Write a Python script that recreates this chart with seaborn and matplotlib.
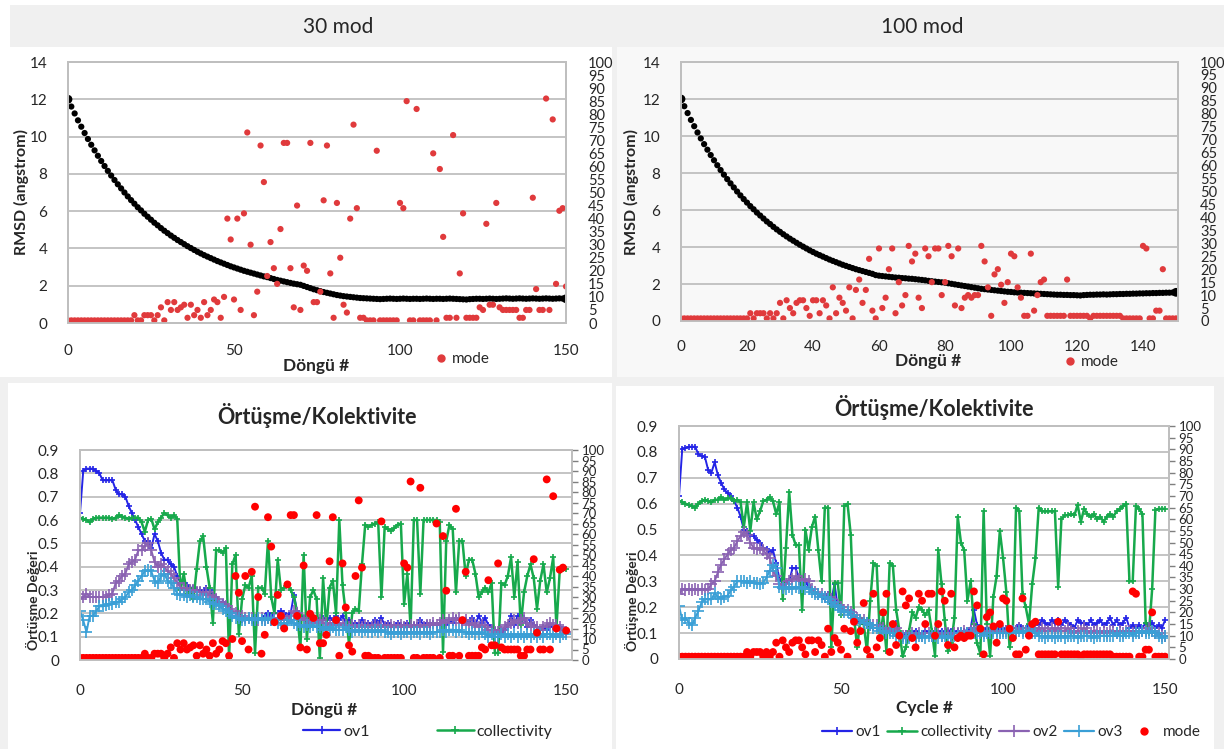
import matplotlib
matplotlib.use("Agg")
import matplotlib.pyplot as plt
from matplotlib.patches import Rectangle
from matplotlib.lines import Line2D
import seaborn as sns

sns.set_theme(style="white")
plt.rcParams['font.family'] = ['Lato', 'DejaVu Sans']

W, H = 1224, 749

# ---------------- data ----------------
cycles = list(range(151))

rmsd_30 = [12.00, 11.61, 11.24, 10.87, 10.53, 10.19, 9.87, 9.56, 9.26, 8.97,
           8.69, 8.42, 8.16, 7.91, 7.67, 7.44, 7.22, 7.00, 6.79, 6.59,
           6.40, 6.21, 6.04, 5.86, 5.70, 5.54, 5.38, 5.24, 5.09, 4.95,
           4.82, 4.69, 4.57, 4.45, 4.34, 4.23, 4.12, 4.02, 3.92, 3.82,
           3.73, 3.64, 3.56, 3.48, 3.40, 3.32, 3.25, 3.18, 3.11, 3.04,
           2.98, 2.92, 2.86, 2.80, 2.75, 2.70, 2.65, 2.60, 2.55, 2.50,
           2.46, 2.41, 2.36, 2.31, 2.27, 2.23, 2.19, 2.15, 2.11, 2.08,
           2.05, 1.99, 1.93, 1.87, 1.81, 1.76, 1.71, 1.66, 1.62, 1.58,
           1.54, 1.50, 1.47, 1.44, 1.42, 1.40, 1.38, 1.36, 1.34, 1.33,
           1.32, 1.31, 1.30, 1.29, 1.28, 1.29, 1.30, 1.31, 1.30, 1.29,
           1.30, 1.31, 1.30, 1.29, 1.30, 1.30, 1.29, 1.30, 1.31, 1.30,
           1.29, 1.30, 1.30, 1.29, 1.30, 1.31, 1.30, 1.29, 1.28, 1.27,
           1.26, 1.28, 1.29, 1.30, 1.30, 1.29, 1.30, 1.31, 1.30, 1.29,
           1.30, 1.31, 1.32, 1.31, 1.30, 1.31, 1.32, 1.31, 1.30, 1.31,
           1.32, 1.31, 1.30, 1.31, 1.32, 1.31, 1.30, 1.31, 1.32, 1.31,
           1.30]

rmsd_100 = [12.00, 11.61, 11.24, 10.87, 10.53, 10.19, 9.87, 9.56, 9.26, 8.97,
            8.69, 8.42, 8.16, 7.91, 7.67, 7.44, 7.22, 7.00, 6.79, 6.59,
            6.40, 6.21, 6.04, 5.86, 5.70, 5.54, 5.38, 5.24, 5.09, 4.95,
            4.82, 4.69, 4.57, 4.45, 4.34, 4.23, 4.12, 4.02, 3.92, 3.82,
            3.73, 3.64, 3.56, 3.48, 3.40, 3.32, 3.25, 3.18, 3.11, 3.04,
            2.98, 2.92, 2.86, 2.80, 2.75, 2.70, 2.65, 2.60, 2.55, 2.48,
            2.45, 2.43, 2.41, 2.39, 2.37, 2.35, 2.34, 2.32, 2.31, 2.29,
            2.28, 2.26, 2.24, 2.22, 2.20, 2.17, 2.15, 2.13, 2.11, 2.09,
            2.07, 2.04, 2.01, 1.98, 1.95, 1.92, 1.89, 1.86, 1.83, 1.80,
            1.77, 1.74, 1.72, 1.70, 1.68, 1.66, 1.64, 1.62, 1.60, 1.58,
            1.57, 1.55, 1.54, 1.53, 1.52, 1.51, 1.50, 1.49, 1.48, 1.47,
            1.46, 1.45, 1.44, 1.43, 1.42, 1.42, 1.41, 1.41, 1.40, 1.40,
            1.39, 1.38, 1.40, 1.41, 1.42, 1.42, 1.43, 1.43, 1.44, 1.43,
            1.44, 1.45, 1.45, 1.46, 1.46, 1.47, 1.47, 1.48, 1.48, 1.49,
            1.49, 1.50, 1.50, 1.51, 1.51, 1.52, 1.52, 1.53, 1.53, 1.54,
            1.55]

mode_30 = ([1] * 20 +
           [3, 1, 1, 3, 3, 3, 1, 3, 6, 1, 8, 5, 8, 5, 6, 7, 2, 7, 3, 5,
            2, 8, 3, 5, 9, 8, 2, 10] +
           [40, 32, 9, 40, 5, 42, 73, 30, 3, 12, 68, 54] +
           [18, 31, 21, 15, 36, 69, 69, 21, 6, 45, 5, 22, 20, 69, 8, 8, 12, 47, 68, 19,
            2, 46, 25, 7, 4, 40, 76, 44, 2, 2] +
           [1, 1, 1, 66, 1, 1, 1, 1, 1, 1] +
           [46, 44, 85, 1, 1, 82, 1, 1, 1, 1, 65, 1, 59, 33, 2, 2, 72, 2, 19, 42] +
           [2, 2, 2, 2, 6, 5, 38, 7, 7, 46, 6, 5, 5, 5, 5, 5, 2, 2, 5, 5] +
           [48, 13, 5, 5, 86, 5, 78, 15, 43, 44, 14])

mode_100 = ([1] * 21 +
            [3, 1, 3, 3, 3, 1, 3, 1, 3, 7,
             1, 8, 5, 3, 7, 8, 8, 5, 2, 8,
             8, 3, 8, 6, 1, 13, 3, 9, 7, 4,
             13, 1, 12, 16, 7, 12, 24, 4, 1, 28,
             5, 9, 20, 28, 3, 15, 6, 10, 29, 23,
             26, 9, 5, 28, 25, 15, 28, 28, 10, 15,
             29, 25, 6, 28, 5, 9, 10, 9, 10, 10,
             29, 23, 13, 2, 18, 20, 14, 7, 15, 26,
             25, 13, 9, 2, 2, 26, 4, 10, 15, 16,
             2, 2, 2, 2, 2, 2, 16, 2, 2, 2,
             2, 2, 2, 1, 2, 2, 2, 2, 2, 2,
             2, 2, 2, 1, 1, 1, 1, 1, 1, 29,
             28, 1, 1, 4, 4, 20, 1, 1, 1, 1])

ov1_30 = [0.63, 0.81, 0.82, 0.82, 0.82, 0.81, 0.80, 0.77, 0.77, 0.77,
          0.77, 0.73, 0.71, 0.71, 0.70, 0.66, 0.63, 0.60, 0.57, 0.54,
          0.51, 0.51, 0.48, 0.54, 0.51, 0.46, 0.43, 0.43, 0.41, 0.40,
          0.36, 0.33, 0.33, 0.32, 0.31, 0.31, 0.30, 0.30, 0.29, 0.31,
          0.30, 0.28, 0.27, 0.25, 0.25, 0.23, 0.21, 0.19, 0.19, 0.18,
          0.17, 0.17, 0.18, 0.18, 0.17, 0.17, 0.18, 0.19, 0.20, 0.19,
          0.20, 0.20, 0.21, 0.20, 0.19, 0.20, 0.28, 0.21, 0.19, 0.18,
          0.18, 0.19, 0.17, 0.18, 0.17, 0.18, 0.17, 0.18, 0.17, 0.19,
          0.17, 0.19, 0.16, 0.17, 0.15, 0.16, 0.15, 0.17, 0.15, 0.16,
          0.15, 0.17, 0.16, 0.18, 0.15, 0.16, 0.15, 0.14, 0.16, 0.15,
          0.15, 0.16, 0.14, 0.15, 0.15, 0.17, 0.15, 0.16, 0.15, 0.16,
          0.15, 0.16, 0.16, 0.15, 0.17, 0.16, 0.18, 0.17, 0.16, 0.17,
          0.16, 0.18, 0.15, 0.19, 0.16, 0.18, 0.15, 0.14, 0.13, 0.12,
          0.11, 0.13, 0.15, 0.19, 0.15, 0.19, 0.16, 0.18, 0.14, 0.17,
          0.15, 0.14, 0.13, 0.14, 0.13, 0.15, 0.14, 0.15, 0.14, 0.13, 0.12]

ov2_30 = [0.26, 0.27, 0.285, 0.27, 0.27, 0.27, 0.27, 0.27, 0.27, 0.28,
          0.285, 0.33, 0.34, 0.36, 0.37, 0.41, 0.42, 0.43, 0.47, 0.47,
          0.49, 0.50, 0.47, 0.42, 0.40, 0.41, 0.40, 0.38, 0.37, 0.35,
          0.33, 0.31, 0.31, 0.30, 0.30, 0.30, 0.29, 0.29, 0.28, 0.29,
          0.28, 0.27, 0.26, 0.25, 0.24, 0.23, 0.22, 0.21, 0.20, 0.19,
          0.19, 0.18, 0.18, 0.18, 0.17, 0.17, 0.18, 0.17, 0.18, 0.17, 0.18,
          0.18, 0.17, 0.18, 0.17, 0.19, 0.21, 0.20, 0.18, 0.17, 0.17,
          0.16, 0.17, 0.16, 0.17, 0.16, 0.16, 0.15, 0.16, 0.15, 0.16,
          0.15, 0.15, 0.14, 0.15, 0.14, 0.15, 0.14, 0.15, 0.14, 0.14,
          0.15, 0.14, 0.15, 0.14, 0.14, 0.15, 0.14, 0.14, 0.15, 0.14,
          0.14, 0.15, 0.14, 0.15, 0.15, 0.14, 0.15, 0.15, 0.16, 0.15,
          0.16, 0.17, 0.16, 0.17, 0.18, 0.17, 0.18, 0.16, 0.17, 0.15,
          0.16, 0.15, 0.14, 0.15, 0.14, 0.13, 0.13, 0.12, 0.12, 0.13,
          0.14, 0.15, 0.16, 0.17, 0.16, 0.17, 0.18, 0.16, 0.15, 0.14,
          0.14, 0.13, 0.14, 0.15, 0.16, 0.15, 0.15, 0.14, 0.13, 0.12]

ov3_30 = [0.21, 0.17, 0.12, 0.19, 0.19, 0.21, 0.23, 0.23, 0.235, 0.24,
          0.24, 0.25, 0.25, 0.26, 0.27, 0.29, 0.30, 0.32, 0.34, 0.36,
          0.38, 0.385, 0.38, 0.34, 0.33, 0.36, 0.37, 0.34, 0.33, 0.31,
          0.285, 0.28, 0.28, 0.27, 0.28, 0.27, 0.27, 0.26, 0.26, 0.26,
          0.25, 0.24, 0.24, 0.23, 0.22, 0.21, 0.20, 0.19, 0.18, 0.18, 0.17,
          0.17, 0.18, 0.17, 0.17, 0.18, 0.17, 0.17, 0.18, 0.17, 0.17,
          0.16, 0.16, 0.15, 0.16, 0.17, 0.16, 0.15, 0.15, 0.14, 0.15,
          0.14, 0.15, 0.14, 0.14, 0.13, 0.14, 0.13, 0.14, 0.13, 0.13,
          0.13, 0.14, 0.13, 0.12, 0.13, 0.13, 0.12, 0.13, 0.12, 0.12,
          0.13, 0.12, 0.13, 0.12, 0.12, 0.11, 0.12, 0.12, 0.11, 0.12,
          0.12, 0.11, 0.12, 0.12, 0.11, 0.12, 0.12, 0.11, 0.12, 0.12,
          0.12, 0.13, 0.12, 0.13, 0.13, 0.12, 0.13, 0.12, 0.12, 0.11,
          0.12, 0.11, 0.11, 0.12, 0.11, 0.10, 0.11, 0.10, 0.10, 0.11,
          0.10, 0.11, 0.10, 0.11, 0.10, 0.11, 0.10, 0.11, 0.10, 0.11,
          0.10, 0.11, 0.10, 0.11, 0.11, 0.10, 0.11, 0.10, 0.11, 0.11]

coll_30 = [0.61, 0.605, 0.60, 0.59, 0.605, 0.61, 0.61, 0.61, 0.61, 0.61,
           0.605, 0.61, 0.62, 0.615, 0.61, 0.605, 0.61, 0.61, 0.61, 0.59,
           0.55, 0.60, 0.605, 0.56, 0.59, 0.61, 0.63, 0.62, 0.61, 0.62,
           0.605, 0.30, 0.37, 0.285, 0.31, 0.26, 0.39, 0.51, 0.53, 0.40,
           0.31, 0.16, 0.47, 0.47, 0.46, 0.48, 0.01, 0.41, 0.45, 0.11,
           0.26, 0.32, 0.31, 0.36, 0.03, 0.31, 0.31, 0.285, 0.51, 0.27,
           0.20, 0.43, 0.30, 0.31, 0.32, 0.30, 0.27, 0.20, 0.05, 0.45,
           0.09, 0.27, 0.30, 0.26, 0.01, 0.35, 0.14, 0.31, 0.34, 0.20,
           0.60, 0.32, 0.20, 0.07, 0.20, 0.22, 0.21, 0.41, 0.58, 0.57,
           0.58, 0.585, 0.59, 0.27, 0.57, 0.56, 0.555, 0.565, 0.58, 0.585,
           0.24, 0.37, 0.14, 0.60, 0.60, 0.285, 0.60, 0.60, 0.60, 0.60,
           0.60, 0.59, 0.035, 0.51, 0.58, 0.56, 0.29, 0.51, 0.51, 0.36,
           0.43, 0.43, 0.37, 0.27, 0.29, 0.31, 0.29, 0.33, 0.03, 0.03,
           0.33, 0.32, 0.36, 0.44, 0.27, 0.42, 0.15, 0.29, 0.36, 0.41,
           0.35, 0.22, 0.34, 0.41, 0.29, 0.35, 0.44, 0.14, 0.38, 0.39, 0.39]

ov1_100 = [0.63, 0.81, 0.815, 0.82, 0.82, 0.82, 0.79, 0.785, 0.78, 0.73,
           0.72, 0.76, 0.71, 0.68, 0.655, 0.64, 0.63, 0.61, 0.585, 0.55,
           0.50, 0.495, 0.48, 0.475, 0.46, 0.45, 0.43, 0.425, 0.41, 0.42,
           0.37, 0.31, 0.29, 0.295, 0.30, 0.35, 0.35, 0.315, 0.30, 0.295,
           0.28, 0.265, 0.26, 0.25, 0.24, 0.23, 0.25, 0.225, 0.29, 0.20,
           0.20, 0.18, 0.185, 0.17, 0.16, 0.15, 0.14, 0.135, 0.13, 0.13,
           0.12, 0.12, 0.11, 0.12, 0.11, 0.10, 0.11, 0.14, 0.10, 0.09,
           0.10, 0.09, 0.10, 0.11, 0.10, 0.10, 0.11, 0.10, 0.11, 0.10,
           0.10, 0.11, 0.10, 0.11, 0.11, 0.10, 0.11, 0.10, 0.11, 0.11,
           0.12, 0.19, 0.13, 0.12, 0.11, 0.12, 0.11, 0.12, 0.11, 0.12,
           0.11, 0.12, 0.11, 0.12, 0.12, 0.13, 0.12, 0.12, 0.13, 0.13,
           0.14, 0.13, 0.15, 0.14, 0.13, 0.15, 0.14, 0.15, 0.13, 0.15,
           0.14, 0.13, 0.12, 0.15, 0.14, 0.14, 0.13, 0.15, 0.13, 0.14,
           0.15, 0.13, 0.14, 0.16, 0.13, 0.15, 0.13, 0.14, 0.16, 0.12,
           0.13, 0.12, 0.13, 0.12, 0.14, 0.13, 0.14, 0.12, 0.13, 0.12, 0.15]

ov2_100 = [0.25, 0.27, 0.265, 0.27, 0.265, 0.27, 0.265, 0.27, 0.265, 0.27,
           0.29, 0.30, 0.335, 0.365, 0.385, 0.405, 0.42, 0.43, 0.455, 0.475,
           0.49, 0.48, 0.45, 0.43, 0.425, 0.43, 0.42, 0.405, 0.39, 0.34,
           0.32, 0.29, 0.28, 0.29, 0.30, 0.31, 0.32, 0.31, 0.30, 0.31,
           0.30, 0.27, 0.26, 0.25, 0.25, 0.24, 0.24, 0.23, 0.22, 0.21,
           0.20, 0.19, 0.19, 0.18, 0.17, 0.16, 0.15, 0.15, 0.14, 0.13, 0.13,
           0.13, 0.12, 0.12, 0.11, 0.12, 0.11, 0.12, 0.10, 0.09, 0.09,
           0.09, 0.10, 0.09, 0.10, 0.09, 0.10, 0.10, 0.09, 0.10, 0.10,
           0.09, 0.10, 0.10, 0.09, 0.10, 0.10, 0.10, 0.11, 0.10, 0.11,
           0.12, 0.11, 0.11, 0.10, 0.11, 0.10, 0.11, 0.11, 0.10, 0.11,
           0.11, 0.10, 0.11, 0.11, 0.12, 0.11, 0.11, 0.12, 0.11, 0.12,
           0.11, 0.12, 0.11, 0.11, 0.12, 0.11, 0.12, 0.11, 0.11, 0.12,
           0.11, 0.10, 0.11, 0.11, 0.12, 0.11, 0.10, 0.11, 0.11, 0.10,
           0.11, 0.10, 0.11, 0.11, 0.10, 0.11, 0.10, 0.11, 0.11, 0.10,
           0.11, 0.10, 0.11, 0.11, 0.12, 0.11, 0.10, 0.10, 0.09, 0.09]

ov3_100 = [0.205, 0.15, 0.16, 0.14, 0.13, 0.16, 0.185, 0.22, 0.23, 0.23,
           0.23, 0.255, 0.24, 0.23, 0.24, 0.245, 0.265, 0.28, 0.30, 0.30,
           0.30, 0.295, 0.30, 0.295, 0.295, 0.29, 0.295, 0.315, 0.34, 0.365,
           0.35, 0.28, 0.275, 0.27, 0.28, 0.27, 0.28, 0.275, 0.28, 0.27,
           0.27, 0.26, 0.25, 0.25, 0.24, 0.24, 0.23, 0.22, 0.21, 0.20,
           0.19, 0.18, 0.18, 0.17, 0.16, 0.15, 0.15, 0.14, 0.14, 0.13, 0.12,
           0.12, 0.11, 0.11, 0.10, 0.10, 0.10, 0.09, 0.09, 0.08, 0.08,
           0.08, 0.09, 0.08, 0.09, 0.09, 0.08, 0.09, 0.09, 0.09, 0.08,
           0.09, 0.09, 0.08, 0.09, 0.09, 0.09, 0.10, 0.09, 0.10, 0.10,
           0.10, 0.10, 0.10, 0.09, 0.10, 0.10, 0.10, 0.10, 0.10, 0.10,
           0.10, 0.10, 0.11, 0.10, 0.11, 0.10, 0.11, 0.11, 0.10, 0.10,
           0.09, 0.09, 0.08, 0.09, 0.09, 0.08, 0.09, 0.09, 0.08, 0.09,
           0.09, 0.09, 0.08, 0.09, 0.09, 0.09, 0.09, 0.08, 0.09, 0.09,
           0.09, 0.09, 0.09, 0.09, 0.10, 0.09, 0.09, 0.10, 0.10, 0.09,
           0.10, 0.10, 0.11, 0.10, 0.10, 0.11, 0.10, 0.09, 0.08, 0.09]

coll_100 = [0.61, 0.605, 0.60, 0.595, 0.59, 0.585, 0.60, 0.61, 0.615, 0.61,
            0.605, 0.615, 0.615, 0.625, 0.615, 0.62, 0.62, 0.61, 0.615, 0.605,
            0.51, 0.605, 0.495, 0.605, 0.54, 0.57, 0.61, 0.615, 0.625, 0.61,
            0.56, 0.605, 0.23, 0.43, 0.645, 0.48, 0.44, 0.44, 0.19, 0.50,
            0.42, 0.51, 0.55, 0.42, 0.30, 0.585, 0.585, 0.045, 0.295, 0.295,
            0.17, 0.59, 0.60, 0.48, 0.16, 0.045, 0.16, 0.135, 0.03, 0.225,
            0.37, 0.36, 0.08, 0.17, 0.03, 0.37, 0.36, 0.19, 0.11, 0.01,
            0.045, 0.11, 0.18, 0.16, 0.20, 0.19, 0.17, 0.19, 0.11, 0.013,
            0.42, 0.29, 0.15, 0.03, 0.06, 0.16, 0.55, 0.45, 0.42, 0.225,
            0.30, 0.135, 0.06, 0.02, 0.57, 0.135, 0.013, 0.24, 0.32, 0.495,
            0.39, 0.26, 0.045, 0.11, 0.585, 0.57, 0.25, 0.20, 0.135, 0.29,
            0.39, 0.585, 0.57, 0.57, 0.57, 0.57, 0.57, 0.28, 0.54, 0.555,
            0.555, 0.56, 0.555, 0.595, 0.53, 0.58, 0.56, 0.55, 0.56, 0.54,
            0.55, 0.53, 0.55, 0.56, 0.55, 0.57, 0.58, 0.59, 0.60, 0.30,
            0.30, 0.59, 0.58, 0.56, 0.14, 0.10, 0.27, 0.575, 0.58, 0.58, 0.58]

rmsd_ticks = [0, 2, 4, 6, 8, 10, 12, 14]
ov_ticks = [0, 0.1, 0.2, 0.3, 0.4, 0.5, 0.6, 0.7, 0.8, 0.9]
ov_tick_labels = ['0', '0.1', '0.2', '0.3', '0.4', '0.5', '0.6', '0.7', '0.8', '0.9']
mode_ticks = list(range(0, 101, 5))

# ---------------- styling ----------------
GRID = '#bfbfbf'
TXT = '#262626'
BLUE = '#2424e6'
GREEN = '#17a94c'
PURPLE = '#8a62b2'
AQUA = '#3a9fd6'
RED_TOP = '#e03a3c'
RED = '#ff0000'

fig = plt.figure(figsize=(12.24, 7.49), dpi=100, facecolor='white')


def rect(x, y, w, h, c):
    fig.add_artist(Rectangle((x / W, 1 - (y + h) / H), w / W, h / H,
                             transform=fig.transFigure, facecolor=c,
                             edgecolor='none', zorder=-10))


def ftext(x, y, s, **kw):
    fig.text(x / W, 1 - y / H, s, ha='center', va='center', color=TXT, **kw)


def axes_px(l, t, r, b):
    return fig.add_axes([l / W, 1 - b / H, (r - l) / W, (b - t) / H])


# panel backgrounds
rect(10, 5, 602, 42, '#f0f0f0')
rect(612, 5, 612, 42, '#f0f0f0')
rect(612, 47, 612, 330, '#f8f8f8')
rect(612, 47, 5, 330, '#f0f0f0')
rect(0, 377, 1224, 372, '#f0f0f0')
rect(8, 383, 604, 366, 'white')
rect(616, 386, 598, 363, 'white')


def style(ax, ax2, xlim, xticks, ylim, yticks, ylabels, face, xpad, lpad, rpad, rlen, rsize):
    ax.set_facecolor(face)
    ax.set_xlim(*xlim)
    ax.set_ylim(*ylim)
    ax.set_xticks(xticks)
    ax.set_xticklabels([str(t) for t in xticks])
    ax.set_yticks(yticks)
    ax.set_yticklabels(ylabels)
    ax.yaxis.grid(True, color=GRID, lw=1.3)
    ax.xaxis.grid(False)
    ax.set_axisbelow(True)
    for s in ax.spines.values():
        s.set_color(GRID)
        s.set_linewidth(1.3)
    ax.tick_params(axis='x', length=0, pad=xpad, labelsize=11, labelcolor=TXT)
    ax.tick_params(axis='y', length=0, pad=lpad, labelsize=11, labelcolor=TXT)
    ax.set_xlabel('')
    ax.set_ylabel('')
    ax2.set_ylim(0, 100)
    ax2.set_yticks(mode_ticks)
    ax2.set_yticklabels([str(t) for t in mode_ticks])
    ax2.grid(False)
    for s in ax2.spines.values():
        s.set_color(GRID)
        s.set_linewidth(1.3)
    ax2.tick_params(axis='y', length=rlen, width=1, color='#7f7f7f', pad=rpad,
                    labelsize=rsize, labelcolor=TXT)
    ax2.set_ylabel('')


# ---------------- top-left : 30 mod ----------------
ax = axes_px(68, 62, 566, 323)
ax2 = ax.twinx()
sns.scatterplot(x=cycles, y=rmsd_30, ax=ax, color='black', s=20, edgecolor='none', legend=False)
sns.scatterplot(x=cycles[:1] + cycles[-1:], y=rmsd_30[:1] + rmsd_30[-1:], ax=ax,
                color='black', s=40, edgecolor='none', legend=False)
sns.scatterplot(x=cycles, y=mode_30, ax=ax2, color=RED_TOP, s=20, edgecolor='none', legend=False)
style(ax, ax2, (0, 150), [0, 50, 100, 150], (0, 14), rmsd_ticks, [str(t) for t in rmsd_ticks],
      'white', 15, 15, 16, 0, 10.5)
ftext(338, 27, '30 mod', fontsize=15)
ftext(21, 192, 'RMSD (angstrom)', fontsize=11.5, fontweight='bold', rotation=90)
ftext(316, 366, 'Döngü #', fontsize=12.5, fontweight='bold')
h_mode_top = Line2D([], [], marker='o', color=RED_TOP, linestyle='none', markersize=5)
fig.legend([h_mode_top], ['mode'], loc='center', bbox_to_anchor=(463 / W, 1 - 359 / H),
           frameon=False, handlelength=0.6, handletextpad=0.4, fontsize=11,
           labelcolor=TXT)

# ---------------- top-right : 100 mod ----------------
ax = axes_px(681, 62, 1178, 321)
ax2 = ax.twinx()
sns.scatterplot(x=cycles, y=rmsd_100, ax=ax, color='black', s=20, edgecolor='none', legend=False)
sns.scatterplot(x=cycles[:1] + cycles[-1:], y=rmsd_100[:1] + rmsd_100[-1:], ax=ax,
                color='black', s=40, edgecolor='none', legend=False)
sns.scatterplot(x=cycles, y=mode_100, ax=ax2, color=RED_TOP, s=20, edgecolor='none', legend=False)
style(ax, ax2, (0, 150.6), list(range(0, 141, 20)), (0, 14), rmsd_ticks,
      [str(t) for t in rmsd_ticks], '#f8f8f8', 14, 15, 16, 0, 10.5)
ftext(922, 27, '100 mod', fontsize=15)
ftext(631, 192, 'RMSD (angstrom)', fontsize=11.5, fontweight='bold', rotation=90)
ftext(928, 361, 'Döngü #', fontsize=12.5, fontweight='bold')
fig.legend([h_mode_top], ['mode'], loc='center', bbox_to_anchor=(1092 / W, 1 - 362 / H),
           frameon=False, handlelength=0.6, handletextpad=0.4, fontsize=11,
           labelcolor=TXT)


# ---------------- bottom panels ----------------
def ov_panel(l, t, r, b, xmax, ov1, coll, ov2, ov3, mode):
    ax = axes_px(l, t, r, b)
    ax2 = ax.twinx()
    common = dict(ax=ax, marker='+', estimator=None, errorbar=None, legend=False)
    sns.lineplot(x=cycles, y=ov1, color=BLUE, markeredgecolor=BLUE, markersize=5,
                 markeredgewidth=1.2, linewidth=1.4, **common)
    sns.lineplot(x=cycles, y=coll, color=GREEN, markeredgecolor=GREEN, markersize=5,
                 markeredgewidth=1.2, linewidth=1.8, **common)
    sns.lineplot(x=cycles, y=ov2, color=PURPLE, markeredgecolor=PURPLE, markersize=8,
                 markeredgewidth=1.2, linewidth=1.4, **common)
    sns.lineplot(x=cycles, y=ov3, color=AQUA, markeredgecolor=AQUA, markersize=8,
                 markeredgewidth=1.2, linewidth=1.4, **common)
    sns.scatterplot(x=cycles, y=mode, ax=ax2, color=RED, s=32, edgecolor='none', legend=False)
    style(ax, ax2, (0, xmax), [0, 50, 100, 150], (0, 0.9), ov_ticks, ov_tick_labels,
          'white', 17, 15, 3, 4, 9.5)
    return ax


ov_panel(80, 450, 572, 660, 151.8, ov1_30, coll_30, ov2_30, ov3_30, mode_30)
ftext(317, 415, 'Örtüşme/Kolektivite', fontsize=15.5, fontweight='bold')
ftext(33, 600, 'Örtüşme Değeri', fontsize=10, fontweight='bold', rotation=90)
ftext(324, 710, 'Döngü #', fontsize=12.5, fontweight='bold')

h_ov1 = Line2D([], [], color=BLUE, marker='+', markersize=6, markeredgewidth=1.2, lw=1.6)
h_coll = Line2D([], [], color=GREEN, marker='+', markersize=6, markeredgewidth=1.2, lw=1.8)
h_ov2 = Line2D([], [], color=PURPLE, marker='+', markersize=8, markeredgewidth=1.2, lw=1.6)
h_ov3 = Line2D([], [], color=AQUA, marker='+', markersize=8, markeredgewidth=1.2, lw=1.6)
h_mode = Line2D([], [], color=RED, marker='o', markersize=5, linestyle='none')

fig.legend([h_ov1, h_coll], ['ov1', 'collectivity'], loc='center',
           bbox_to_anchor=(428 / W, 1 - 732 / H), ncol=2, frameon=False,
           handlelength=2.3, handletextpad=0.2, columnspacing=4.2, fontsize=11.5,
           labelcolor=TXT)

ov_panel(679, 426, 1169, 659, 151.2, ov1_100, coll_100, ov2_100, ov3_100, mode_100)
ftext(934, 407, 'Örtüşme/Kolektivite', fontsize=15.5, fontweight='bold')
ftext(632, 601, 'Örtüşme Değeri', fontsize=10, fontweight='bold', rotation=90)
ftext(924, 708, 'Cycle #', fontsize=12.5, fontweight='bold')
fig.legend([h_ov1, h_coll, h_ov2, h_ov3, h_mode],
           ['ov1', 'collectivity', 'ov2', 'ov3', 'mode'], loc='center',
           bbox_to_anchor=(1011 / W, 1 - 732 / H), ncol=5, frameon=False,
           handlelength=2.0, handletextpad=0.2, columnspacing=0.4, fontsize=11,
           labelcolor=TXT)

fig.savefig('out.png', dpi=100, facecolor=fig.get_facecolor())
